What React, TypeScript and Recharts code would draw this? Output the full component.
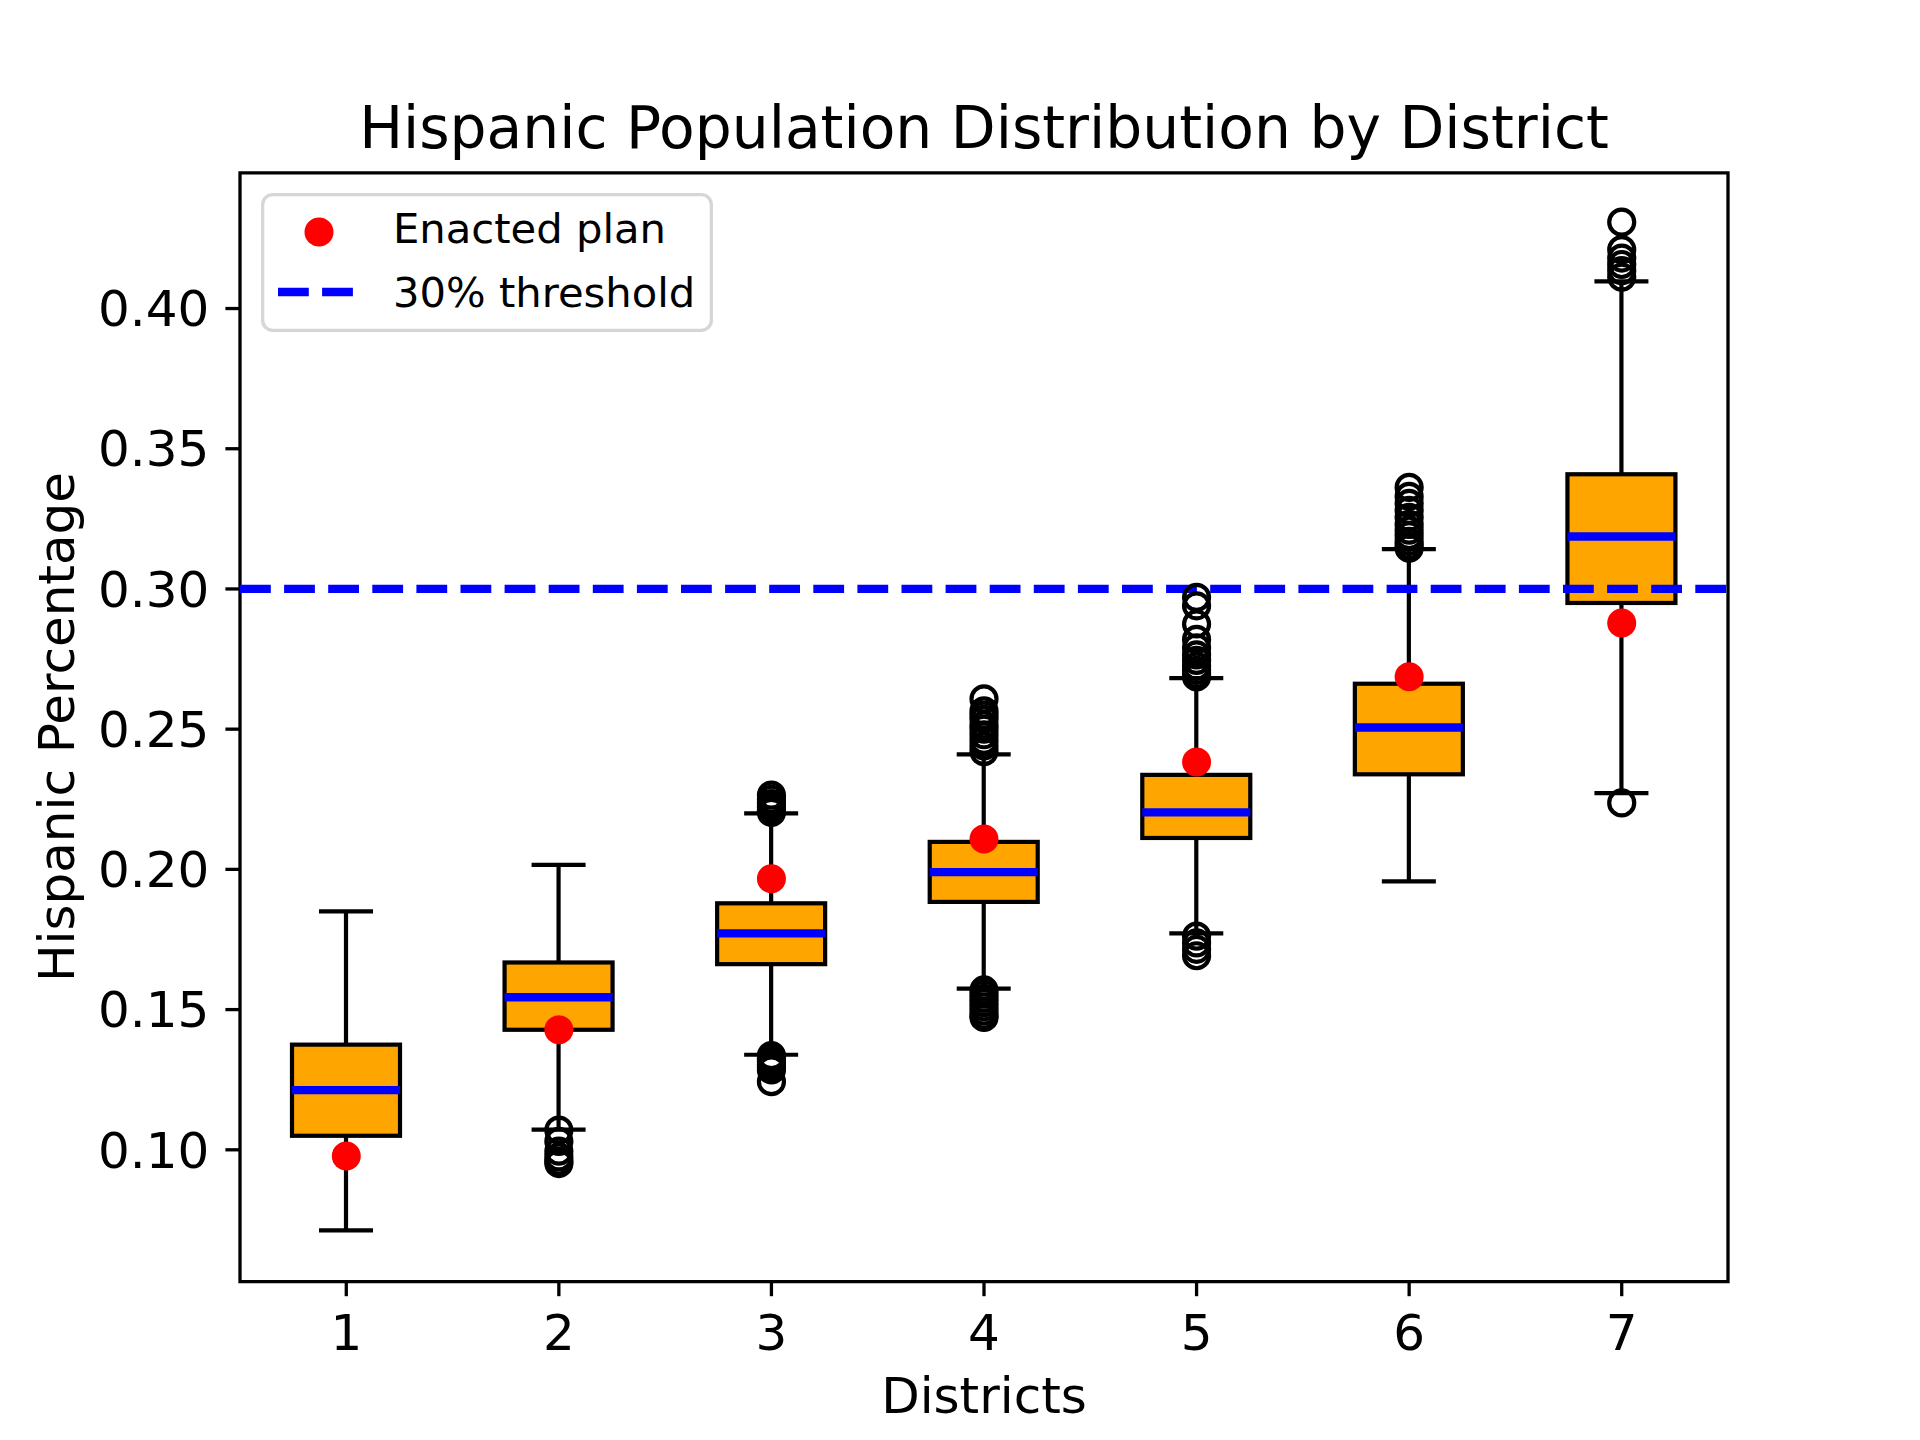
import React from "react";
import { ComposedChart, Bar, Scatter, XAxis, YAxis, ReferenceLine, ReferenceArea, Legend } from "recharts";

const districts = [1, 2, 3, 4, 5, 6, 7];
const whiskerLow = [0.0713, 0.1072, 0.1339, 0.1575, 0.1772, 0.1957, 0.2272];
const q1 = [0.105, 0.1428, 0.1662, 0.1884, 0.2112, 0.2339, 0.295];
const median = [0.1213, 0.1544, 0.1772, 0.199, 0.2203, 0.2506, 0.3187];
const q3 = [0.1375, 0.1668, 0.1879, 0.2098, 0.2337, 0.2662, 0.3409];
const whiskerHigh = [0.185, 0.2016, 0.22, 0.241, 0.2682, 0.3142, 0.4097];
const enacted = [0.0978, 0.1428, 0.1967, 0.2108, 0.2383, 0.2687, 0.2879];
const outliers: number[][] = [
    [],
    [0.107, 0.103, 0.0995, 0.0975, 0.096, 0.0951],
    [0.2265, 0.225, 0.2235, 0.2222, 0.221, 0.2203, 0.1336, 0.1325, 0.1315, 0.1305, 0.1295, 0.1285, 0.1243],
    [0.2608, 0.2565, 0.255, 0.2535, 0.2515, 0.25, 0.248, 0.246, 0.244, 0.242, 0.157, 0.1555, 0.154, 0.1525, 0.151, 0.1495, 0.148, 0.1472],
    [0.297, 0.294, 0.2875, 0.282, 0.279, 0.2765, 0.2745, 0.2725, 0.271, 0.2695, 0.2686, 0.1762, 0.1738, 0.1715, 0.1692],
    [0.3362, 0.333, 0.3305, 0.328, 0.3255, 0.323, 0.321, 0.319, 0.317, 0.3155, 0.3145],
    [0.4308, 0.421, 0.418, 0.4157, 0.4135, 0.4112, 0.2237],
];
const threshold = 0.3;
const yTicks = [0.1, 0.15, 0.2, 0.25, 0.3, 0.35, 0.4];
const yDomain = [0.053, 0.4484];
const legendItems = ["Enacted plan", "30% threshold"];

const boxData = districts.map((d, i) => ({
    district: d,
    range: [whiskerLow[i], whiskerHigh[i]],
    lo: whiskerLow[i],
    q1: q1[i],
    median: median[i],
    q3: q3[i],
    hi: whiskerHigh[i],
}));
const enactedData = districts.map((d, i) => ({ district: d, value: enacted[i] }));
const outlierData = districts.flatMap((d, i) => outliers[i].map((v) => ({ district: d, value: v })));

const FONT = "'DejaVu Sans', sans-serif";
const LW = 4.2;

const BoxShape = (props: any) => {
    const { x, y, width, height, payload } = props;
    const cx = x + width / 2;
    const yOf = (v: number) => y + (height * (payload.hi - v)) / (payload.hi - payload.lo);
    const cap = width / 4;
    return (
        <g>
            <line x1={cx} x2={cx} y1={yOf(payload.hi)} y2={yOf(payload.q3)} stroke="#000" strokeWidth={LW} />
            <line x1={cx} x2={cx} y1={yOf(payload.q1)} y2={yOf(payload.lo)} stroke="#000" strokeWidth={LW} />
            <line x1={cx - cap} x2={cx + cap} y1={yOf(payload.hi)} y2={yOf(payload.hi)} stroke="#000" strokeWidth={LW} />
            <line x1={cx - cap} x2={cx + cap} y1={yOf(payload.lo)} y2={yOf(payload.lo)} stroke="#000" strokeWidth={LW} />
            <rect
                x={x}
                y={yOf(payload.q3)}
                width={width}
                height={yOf(payload.q1) - yOf(payload.q3)}
                fill="#FFA500"
                stroke="#000"
                strokeWidth={LW}
            />
            <line x1={x} x2={x + width} y1={yOf(payload.median)} y2={yOf(payload.median)} stroke="#0000ff" strokeWidth={8.3} />
        </g>
    );
};

const OutlierShape = (p: any) => <circle cx={p.cx} cy={p.cy} r={12.5} fill="none" stroke="#000" strokeWidth={LW} />;
const EnactedShape = (p: any) => <circle cx={p.cx} cy={p.cy} r={14.5} fill="#ff0000" />;

const LegendBox = () => (
    <svg width={452} height={139} style={{ display: "block" }}>
        <rect x={1.65} y={1.65} width={448.7} height={135.7} rx={10} fill="rgba(255,255,255,0.8)" stroke="#d6d6d6" strokeWidth={3.3} />
        <circle cx={58} cy={39} r={14.5} fill="#ff0000" />
        <line x1={17} x2={92} y1={99} y2={99} stroke="#0000ff" strokeWidth={8.3} strokeDasharray="30.8 13.3" />
        <text x={132} y={50} fontFamily={FONT} fontSize={41.7} fill="#000">{legendItems[0]}</text>
        <text x={132} y={114} fontFamily={FONT} fontSize={41.7} fill="#000">{legendItems[1]}</text>
    </svg>
);

export default function App() {
    const tickStyle = { fill: "#000", fontSize: 50, fontFamily: FONT };
    return (
        <div style={{ position: "absolute", left: 0, top: 0, width: 1920, height: 1440, background: "#fff" }}>
            <ComposedChart width={1920} height={1440} data={boxData} margin={{ top: 172.8, right: 192, bottom: 98.4, left: 0 }}>
                <XAxis
                    type="number"
                    dataKey="district"
                    domain={[0.5, 7.5]}
                    ticks={districts}
                    interval={0}
                    allowDataOverflow
                    height={60}
                    axisLine={false}
                    tickLine={{ stroke: "#000", strokeWidth: 3.3 }}
                    tickSize={14.6}
                    tickMargin={18}
                    tick={tickStyle}
                />
                <YAxis
                    type="number"
                    domain={yDomain}
                    ticks={yTicks}
                    interval={0}
                    allowDataOverflow
                    width={240}
                    axisLine={false}
                    tickLine={{ stroke: "#000", strokeWidth: 3.3 }}
                    tickSize={14.6}
                    tickMargin={16}
                    tick={tickStyle}
                    tickFormatter={(v: number) => v.toFixed(2)}
                />
                <Legend
                    layout="vertical"
                    align="center"
                    verticalAlign="middle"
                    content={() => <LegendBox />}
                    wrapperStyle={{ left: 261, top: 193, width: 452, height: 139 }}
                />
                <Bar dataKey="range" barSize={108} shape={BoxShape} isAnimationActive={false} legendType="none" />
                <ReferenceLine y={threshold} stroke="#0000ff" strokeWidth={8.3} strokeDasharray="30.8 13.3" />
                <Scatter data={outlierData} dataKey="value" shape={OutlierShape} isAnimationActive={false} legendType="none" />
                <Scatter data={enactedData} dataKey="value" shape={EnactedShape} isAnimationActive={false} legendType="none" />
                <ReferenceArea x1={0.5} x2={7.5} y1={yDomain[0]} y2={yDomain[1]} fill="none" stroke="#000" strokeWidth={3.3} />
            </ComposedChart>
            <svg width={1920} height={1440} style={{ position: "absolute", left: 0, top: 0, pointerEvents: "none" }}>
                <text x={984} y={148} textAnchor="middle" fontFamily={FONT} fontSize={58.3} fill="#000">
                    Hispanic Population Distribution by District
                </text>
                <text x={984} y={1413} textAnchor="middle" fontFamily={FONT} fontSize={50} fill="#000">
                    Districts
                </text>
                <text x={74} y={727} textAnchor="middle" fontFamily={FONT} fontSize={50} fill="#000" transform="rotate(-90 74 727)">
                    Hispanic Percentage
                </text>
            </svg>
        </div>
    );
}
